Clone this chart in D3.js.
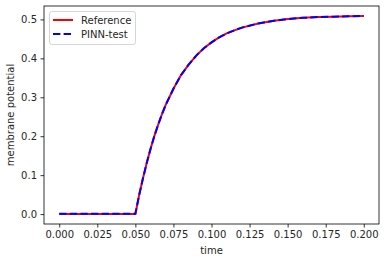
<!DOCTYPE html>
<html><head><meta charset="utf-8">
<script src="https://cdn.jsdelivr.net/npm/d3@7"></script>
<style>body{margin:0;background:#fff}svg{display:block}text{font-family:"DejaVu Sans",sans-serif;fill:#262626}</style>
</head><body>
<script>
const times = [0, 0.01, 0.02, 0.03, 0.04, 0.05, 0.0525, 0.055, 0.0575, 0.06, 0.0625, 0.065, 0.0675, 0.07, 0.075, 0.08, 0.085, 0.09, 0.095, 0.1, 0.105, 0.11, 0.115, 0.12, 0.13, 0.14, 0.15, 0.16, 0.17, 0.18, 0.19, 0.2];
const reference = [0, 0, 0, 0, 0, 0, 0.049, 0.092, 0.132, 0.168, 0.201, 0.230, 0.257, 0.281, 0.322, 0.357, 0.384, 0.407, 0.426, 0.441, 0.454, 0.464, 0.472, 0.479, 0.489, 0.496, 0.501, 0.504, 0.506, 0.507, 0.508, 0.509];
const pinnTest = [0.001, 0.001, 0.001, 0.001, 0.001, 0.001, 0.049, 0.092, 0.132, 0.168, 0.201, 0.230, 0.257, 0.281, 0.322, 0.357, 0.384, 0.407, 0.426, 0.441, 0.454, 0.464, 0.472, 0.479, 0.489, 0.496, 0.501, 0.504, 0.506, 0.507, 0.508, 0.509];
const xTicks = [0, 0.025, 0.05, 0.075, 0.1, 0.125, 0.15, 0.175, 0.2];
const yTicks = [0, 0.1, 0.2, 0.3, 0.4, 0.5];
const seriesNames = ["Reference", "PINN-test"];

const W = 386, H = 262;
const m = {left: 44, right: 7, top: 6, bottom: 38};
const svg = d3.select("body").append("svg").attr("width", W).attr("height", H);

const xr = d3.extent(times), xm = (xr[1]-xr[0])*0.05;
const yAll = reference.concat(pinnTest);
const yr = d3.extent(yAll), ym = (yr[1]-yr[0])*0.05;
const x = d3.scaleLinear().domain([xr[0]-xm, xr[1]+xm]).range([m.left, W-m.right]);
const y = d3.scaleLinear().domain([yr[0]-ym, yr[1]+ym]).range([H-m.bottom, m.top]);

const xAxis = svg.append("g").attr("transform", `translate(0,${H-m.bottom})`)
  .call(d3.axisBottom(x).tickValues(xTicks).tickFormat(d3.format(".3f")).tickSize(3.5).tickPadding(3.5));
const yAxis = svg.append("g").attr("transform", `translate(${m.left},0)`)
  .call(d3.axisLeft(y).tickValues(yTicks).tickFormat(d3.format(".1f")).tickSize(3.5).tickPadding(3.5));
[xAxis, yAxis].forEach(g => {
  g.select(".domain").remove();
  g.selectAll("line").attr("stroke", "#000").attr("stroke-width", 0.8);
  g.selectAll("text").attr("font-size", 10).attr("font-family", "DejaVu Sans").attr("fill", "#262626");
});

const line = d3.line().x((d,i) => x(times[i])).y(d => y(d));
svg.append("path").datum(reference).attr("d", line).attr("fill", "none")
  .attr("stroke", "#ff0000").attr("stroke-width", 2);
svg.append("path").datum(pinnTest).attr("d", line).attr("fill", "none")
  .attr("stroke", "#0000ff").attr("stroke-width", 2).attr("stroke-dasharray", "7.4,3.2");

svg.append("rect").attr("x", m.left).attr("y", m.top).attr("width", W-m.right-m.left).attr("height", H-m.bottom-m.top)
  .attr("fill", "none").attr("stroke", "#000").attr("stroke-width", 0.8);

svg.append("text").attr("x", (m.left + W - m.right)/2).attr("y", 254).attr("text-anchor", "middle")
  .attr("font-size", 10).text("time");
svg.append("text").attr("transform", `translate(14,${(m.top + H - m.bottom)/2}) rotate(-90)`).attr("text-anchor", "middle")
  .attr("font-size", 10).text("membrane potential");

const lg = svg.append("g");
lg.append("rect").attr("x", 49.5).attr("y", 11.5).attr("width", 86).attr("height", 33).attr("rx", 2.5)
  .attr("fill", "#fff").attr("fill-opacity", 0.8).attr("stroke", "#cccccc").attr("stroke-width", 0.8);
const colors = ["#ff0000", "#0000ff"], dashes = [null, "7.4,3.2"];
seriesNames.forEach((n, i) => {
  const cy = 20 + i*14;
  lg.append("line").attr("x1", 53).attr("x2", 73).attr("y1", cy).attr("y2", cy)
    .attr("stroke", colors[i]).attr("stroke-width", 2).attr("stroke-dasharray", dashes[i]);
  lg.append("text").attr("x", 81).attr("y", cy + 3.5).attr("font-size", 10).text(n);
});
</script>
</body></html>
